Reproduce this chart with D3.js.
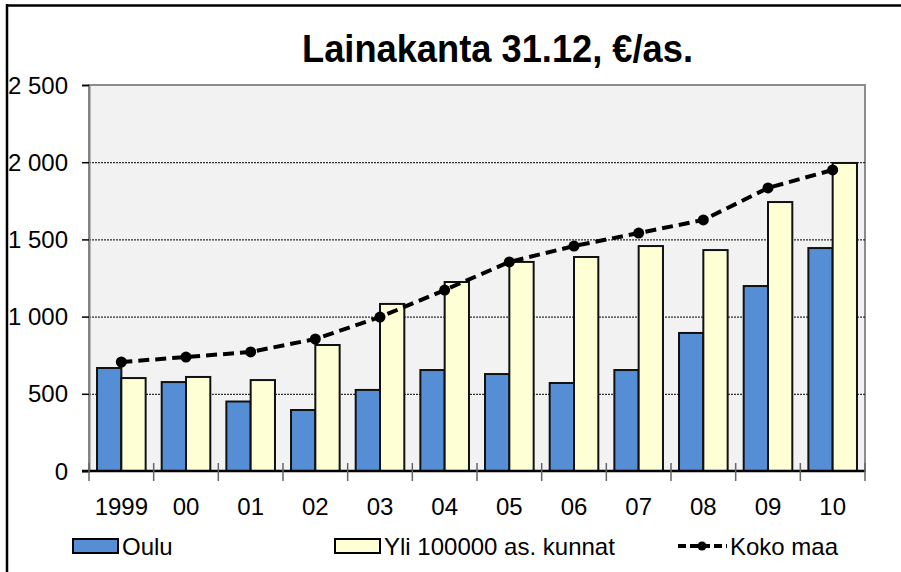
<!DOCTYPE html>
<html>
<head>
<meta charset="utf-8">
<script src="https://cdn.jsdelivr.net/npm/d3@7"></script>
<style>
    body { margin: 0; background: #fff; }
    svg { display: block; font-family: "Liberation Sans", Arial, sans-serif; }
</style>
</head>
<body>
<div id="chart"></div>
<script>
const years = ['1999', '00', '01', '02', '03', '04', '05', '06', '07', '08', '09', '10'];
const oulu = [667, 576, 450, 395, 525, 654, 628, 570, 654, 894, 1198, 1444];
const yli100000 = [602, 609, 589, 816, 1082, 1224, 1354, 1386, 1457, 1431, 1742, 1995];
const kokoMaa = [706, 738, 771, 855, 997, 1172, 1354, 1457, 1541, 1626, 1833, 1950];
const yTicks = [0, 500, 1000, 1500, 2000, 2500];
const seriesNames = ['Oulu', 'Yli 100000 as. kunnat', 'Koko maa'];

const width = 901, height = 572;
const margin = { left: 89, right: 36, top: 85, bottom: 101 };

const svg = d3.select('#chart').append('svg')
    .attr('width', width)
    .attr('height', height);

// outer frame (left and top only)
svg.append('line').attr('x1', 7).attr('x2', 7).attr('y1', 4).attr('y2', height)
    .attr('stroke', '#000').attr('stroke-width', 2.5);
svg.append('line').attr('x1', 6).attr('x2', width).attr('y1', 5.5).attr('y2', 5.5)
    .attr('stroke', '#000').attr('stroke-width', 2.5);

svg.append('text')
    .attr('x', 302).attr('y', 62)
    .attr('font-weight', 'bold')
    .attr('font-size', 39)
    .attr('textLength', 391)
    .attr('lengthAdjust', 'spacingAndGlyphs')
    .text('Lainakanta 31.12, €/as.');

const x = d3.scaleBand()
    .domain(years)
    .range([margin.left, width - margin.right]);

const y = d3.scaleLinear()
    .domain([0, 2500])
    .range([height - margin.bottom, margin.top]);

// plot area
svg.append('rect')
    .attr('x', margin.left).attr('y', margin.top)
    .attr('width', width - margin.left - margin.right)
    .attr('height', height - margin.top - margin.bottom)
    .attr('fill', '#f2f2f2')
    .attr('stroke', '#8c8c8c')
    .attr('stroke-width', 2);

// gridlines
svg.append('g')
    .selectAll('line')
    .data(yTicks.filter(d => d > 0 && d < 2500))
    .enter().append('line')
    .attr('x1', margin.left).attr('x2', width - margin.right)
    .attr('y1', d => y(d) + 0.5).attr('y2', d => y(d) + 0.5)
    .attr('stroke', '#000')
    .attr('stroke-width', 1)
    .attr('stroke-dasharray', '2,1');

// bars
const inner = d3.scaleBand()
    .domain(['oulu', 'yli'])
    .range([0, x.bandwidth()])
    .paddingInner(0)
    .paddingOuter(0.33);

const barData = years.map((yr, i) => ({ yr, oulu: oulu[i], yli: yli100000[i] }));
const colors = { oulu: '#558ed5', yli: '#ffffd5' };

['oulu', 'yli'].forEach(key => {
    svg.append('g')
        .selectAll('rect')
        .data(barData)
        .enter().append('rect')
        .attr('x', d => x(d.yr) + inner(key))
        .attr('y', d => y(d[key]))
        .attr('width', inner.bandwidth())
        .attr('height', d => y(0) - y(d[key]))
        .attr('fill', colors[key])
        .attr('stroke', '#111')
        .attr('stroke-width', 2);
});

// y axis
const yAxis = svg.append('g')
    .attr('transform', `translate(${margin.left},0)`)
    .call(d3.axisLeft(y).tickValues(yTicks).tickSize(7).tickPadding(14)
        .tickFormat(d => d3.format(',')(d).replace(',', ' ')));
yAxis.select('.domain').attr('stroke', '#808080').attr('stroke-width', 2);
yAxis.selectAll('.tick line').attr('stroke', '#000').attr('stroke-width', 1.5);
yAxis.selectAll('text').attr('font-size', 24).attr('fill', '#000')
    .attr('font-family', '"Liberation Sans", Arial, sans-serif')
    .attr('dy', '0.34em');

// x axis
const xAxis = svg.append('g')
    .attr('transform', `translate(0,${y(0)})`)
    .call(d3.axisBottom(x).tickSize(0).tickPadding(27));
xAxis.select('.domain').remove();
xAxis.selectAll('text').attr('font-size', 24).attr('fill', '#000')
    .attr('font-family', '"Liberation Sans", Arial, sans-serif');
svg.append('line')
    .attr('x1', margin.left - 7).attr('x2', width - margin.right)
    .attr('y1', y(0)).attr('y2', y(0))
    .attr('stroke', '#000').attr('stroke-width', 2.5);
svg.append('g')
    .selectAll('line')
    .data(years.concat(['end']))
    .enter().append('line')
    .attr('x1', (d, i) => margin.left + i * x.step())
    .attr('x2', (d, i) => margin.left + i * x.step())
    .attr('y1', y(0) - 8).attr('y2', y(0) + 10)
    .attr('stroke', '#666').attr('stroke-width', 1.5);

// Koko maa line
const line = d3.line()
    .x((d, i) => x(years[i]) + x.bandwidth() / 2)
    .y(d => y(d));

svg.append('path')
    .datum(kokoMaa)
    .attr('d', line)
    .attr('fill', 'none')
    .attr('stroke', '#000')
    .attr('stroke-width', 4)
    .attr('stroke-dasharray', '11,6');

svg.append('g')
    .selectAll('circle')
    .data(kokoMaa)
    .enter().append('circle')
    .attr('cx', (d, i) => x(years[i]) + x.bandwidth() / 2)
    .attr('cy', d => y(d))
    .attr('r', 5.5)
    .attr('fill', '#000');

// legend
const legend = svg.append('g').attr('font-size', 24)
    .attr('font-family', '"Liberation Sans", Arial, sans-serif');
legend.append('rect').attr('x', 73).attr('y', 539).attr('width', 45).attr('height', 14)
    .attr('fill', colors.oulu).attr('stroke', '#000').attr('stroke-width', 2);
legend.append('text').attr('x', 122).attr('y', 555).text(seriesNames[0]);
legend.append('rect').attr('x', 335).attr('y', 539).attr('width', 45).attr('height', 14)
    .attr('fill', colors.yli).attr('stroke', '#000').attr('stroke-width', 2);
legend.append('text').attr('x', 384).attr('y', 555).text(seriesNames[1]);
legend.append('line').attr('x1', 678).attr('x2', 727).attr('y1', 546).attr('y2', 546)
    .attr('stroke', '#000').attr('stroke-width', 4).attr('stroke-dasharray', '8,4');
legend.append('circle').attr('cx', 702).attr('cy', 546).attr('r', 4.5).attr('fill', '#000');
legend.append('text').attr('x', 730).attr('y', 555).text(seriesNames[2]);
</script>
</body>
</html>
